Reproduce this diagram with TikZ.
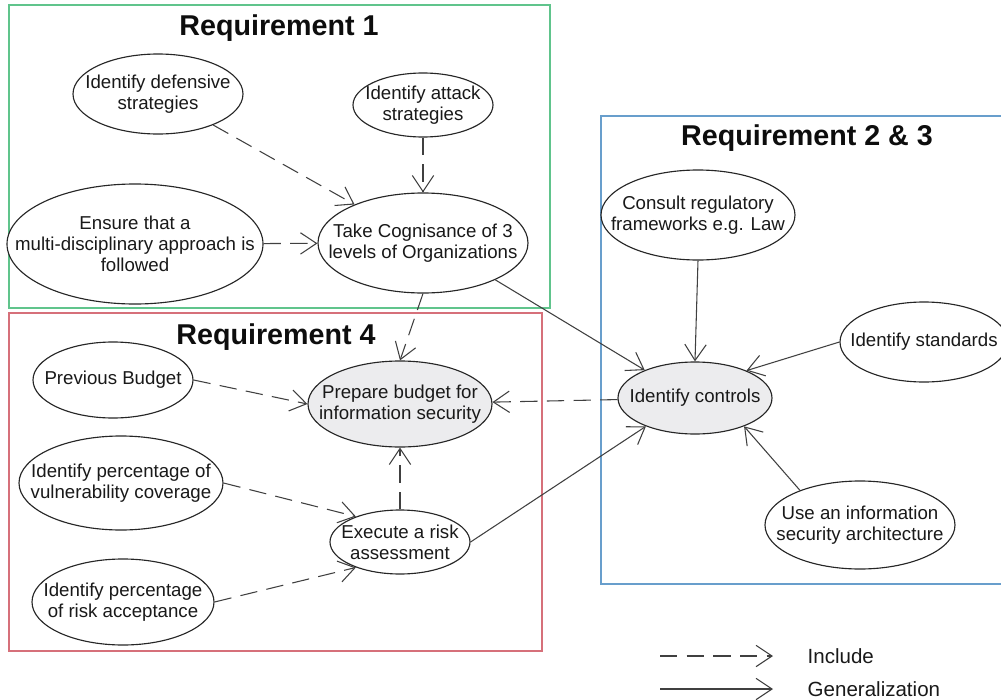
\documentclass[tikz,border=0pt]{standalone}
\usepackage{fontspec}
\setmainfont{Liberation Sans}
\usetikzlibrary{shapes.geometric,arrows.meta}

\definecolor{grpgreen}{RGB}{96,196,140}
\definecolor{grpred}{RGB}{214,112,122}
\definecolor{grpblue}{RGB}{104,158,204}
\definecolor{ucfill}{RGB}{236,236,238}

\tikzset{
  uc/.style={ellipse, draw=black!85, line width=0.85pt, fill=white, inner sep=0pt},
  ucg/.style={uc, fill=ucfill},
  txt/.style={align=center, inner sep=0pt, text=black!90,
              font=\fontsize{14}{15.75}\selectfont},
  grouptitle/.style={font=\fontsize{21.5}{25}\selectfont\bfseries, text=black!95},
  legtext/.style={anchor=west, font=\fontsize{15.4}{18}\selectfont, text=black!90},
  grp/.style={line width=1.1pt},
  incl/.style={draw=black!75, line width=0.8pt, dash pattern=on 13pt off 7pt,
               -{Straight Barb[length=12pt,width=16pt]}},
  gen/.style={draw=black!75, line width=0.8pt,
              -{Straight Barb[length=12pt,width=16pt]}}
}

\begin{document}
\begin{tikzpicture}[x=0.75pt, y=-0.75pt]
  \useasboundingbox (0,0) rectangle (1001,700);
  \clip (0,0) rectangle (1001,700);

  % group frames
  \draw[grp, grpgreen] (9,5) rectangle (550,308);
  \draw[grp, grpred]   (9,313) rectangle (542,651);
  \draw[grp, grpblue]  (601,116) rectangle (1010,584);

  \node[grouptitle] (t1)  at (279,28)  {Requirement 1};
  \node[grouptitle] (t4)  at (276,337) {Requirement 4};
  \node[grouptitle] (t23) at (807,138) {Requirement 2 \& 3};

  % Requirement 1 use cases
  \node[uc, minimum width=127.5pt, minimum height=60pt,
        label={[txt]center:{Identify defensive\\strategies}}] (def) at (158,94) {};
  \node[uc, minimum width=105pt, minimum height=48pt,
        label={[txt]center:{Identify attack\\strategies}}] (att) at (423,105) {};
  \node[uc, minimum width=192pt, minimum height=90pt,
        label={[txt]center:{Ensure that a\\multi-disciplinary approach is\\followed}}] (ens) at (135,244) {};
  \node[uc, minimum width=157.5pt, minimum height=75pt,
        label={[txt]center:{Take Cognisance of 3\\levels of Organizations}}] (take) at (423,243) {};

  % Requirement 4 use cases
  \node[uc, minimum width=120pt, minimum height=57pt,
        label={[txt]center:{Previous Budget}}] (prev) at (113,380) {};
  \node[ucg, minimum width=138pt, minimum height=64.5pt,
        label={[txt]center:{Prepare budget for\\information security}}] (prep) at (400,404) {};
  \node[uc, minimum width=153pt, minimum height=70.5pt,
        label={[txt]center:{Identify percentage of\\vulnerability coverage}}] (vul) at (121,483) {};
  \node[uc, minimum width=105pt, minimum height=48pt,
        label={[txt]center:{Execute a risk\\assessment}}] (exe) at (400,542) {};
  \node[uc, minimum width=136.5pt, minimum height=64.5pt,
        label={[txt]center:{Identify percentage\\of risk acceptance}}] (risk) at (123,602) {};

  % Requirement 2 & 3 use cases
  \node[uc, minimum width=145.5pt, minimum height=67.5pt,
        label={[txt]center:{Consult regulatory\\frameworks e.g. Law}}] (cons) at (698,215) {};
  \node[uc, minimum width=126pt, minimum height=60pt,
        label={[txt]center:{Identify standards}}] (std) at (924,342) {};
  \node[ucg, minimum width=115.5pt, minimum height=54pt,
        label={[txt]center:{Identify controls}}] (ctrl) at (695,398) {};
  \node[uc, minimum width=142.5pt, minimum height=66pt,
        label={[txt]center:{Use an information\\security architecture}}] (arch) at (860,525) {};

  % include relations
  \draw[incl] (def) -- (take);
  \draw[incl] (att) -- (take);
  \draw[incl] (ens) -- (take);
  \draw[incl] (take.south) -- (prep.north);
  \draw[incl] (prev.east) -- (prep.west);
  \draw[incl] (ctrl) -- (prep);
  \draw[incl] (exe) -- (prep);
  \draw[incl] (vul.east) -- (exe.150);
  \draw[incl] (risk.east) -- (exe.210);

  % generalization relations
  \draw[gen] (take.-27) -- (ctrl.151);
  \draw[gen] (exe.east) -- (ctrl.210);
  \draw[gen] (cons.south) -- (ctrl.north);
  \draw[gen] (std.west) -- (ctrl.28);
  \draw[gen] (arch.150) -- (ctrl.-30);

  % legend
  \coordinate (la1) at (660,656);
  \coordinate (la2) at (773,656);
  \coordinate (lb1) at (660,689);
  \coordinate (lb2) at (773,689);
  \draw[incl] (la1) -- (la2);
  \draw[gen]  (lb1) -- (lb2);
  \node[legtext] (linc) at (803,656) {Include};
  \node[legtext] (lgen) at (803,689) {Generalization};
\end{tikzpicture}
\end{document}
